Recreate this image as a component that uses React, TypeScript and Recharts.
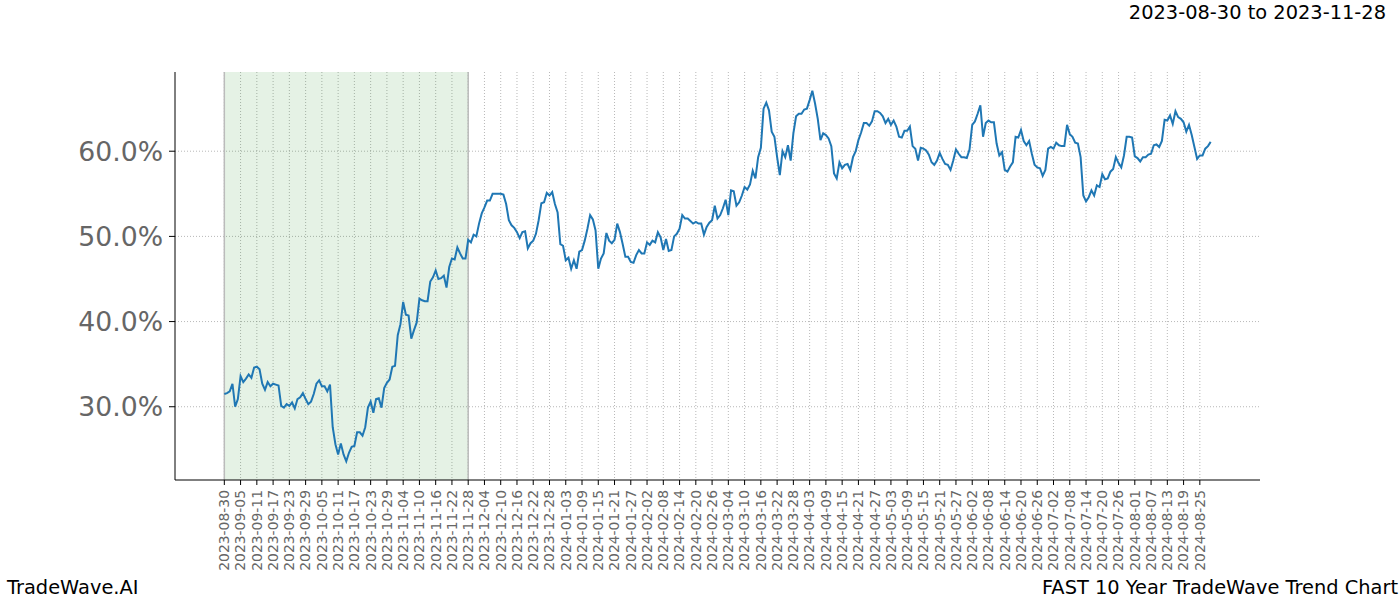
import { CartesianGrid, Line, LineChart, ReferenceArea, ReferenceLine, XAxis, YAxis } from "recharts";

// one value per day, index 0 = 2023-08-30 (feb 29 not in the series)
const trendValues = [
  31.5, 31.6, 31.8, 32.7, 30.0, 30.9, 33.6, 32.9, 33.3, 33.8,
  33.4, 34.6, 34.7, 34.4, 32.7, 32.0, 32.9, 32.4, 32.7, 32.6,
  32.5, 30.1, 29.9, 30.3, 30.1, 30.5, 29.8, 30.9, 31.1, 31.6,
  30.9, 30.3, 30.6, 31.5, 32.7, 33.1, 32.4, 32.4, 31.8, 32.6,
  27.6, 25.6, 24.4, 25.7, 24.4, 23.6, 24.6, 25.3, 25.4, 27.0,
  27.0, 26.6, 27.6, 29.9, 30.6, 29.3, 30.9, 31.0, 29.9, 32.2,
  32.8, 33.2, 34.7, 34.8, 38.4, 39.7, 42.3, 40.8, 40.7, 38.0,
  39.0, 39.9, 42.7, 42.5, 42.4, 42.4, 44.7, 45.2, 46.0, 45.0,
  45.1, 45.4, 44.0, 46.4, 47.4, 47.3, 48.7, 48.0, 47.4, 47.4,
  49.6, 49.3, 50.2, 50.0, 51.5, 52.7, 53.4, 54.2, 54.2, 55.0,
  55.0, 55.0, 55.0, 54.9, 53.8, 51.9, 51.3, 51.0, 50.5, 49.8,
  50.5, 50.6, 48.6, 49.2, 49.5, 50.3, 51.9, 53.9, 54.0, 55.1,
  54.8, 55.2, 53.8, 52.8, 49.1, 48.9, 47.2, 47.5, 46.2, 47.2,
  46.2, 48.2, 48.4, 49.5, 50.9, 52.5, 52.0, 50.7, 46.2, 47.4,
  48.0, 50.4, 49.5, 49.2, 49.6, 51.5, 50.5, 49.1, 47.6, 47.6,
  47.0, 46.9, 47.8, 48.4, 48.0, 48.0, 49.3, 49.0, 49.5, 49.3,
  50.5, 49.9, 48.4, 49.7, 48.3, 48.4, 50.0, 50.3, 50.9, 52.5,
  52.1, 52.1, 51.8, 51.5, 51.7, 51.5, 51.5, 50.2, 51.1, 51.6,
  51.9, 53.6, 52.1, 52.5, 53.3, 54.3, 52.5, 55.4, 55.3, 53.6,
  54.0, 54.8, 55.8, 55.5, 56.1, 57.7, 56.8, 59.3, 60.4, 65.0,
  65.7, 64.8, 62.3, 61.7, 59.3, 57.2, 60.0, 59.3, 60.7, 58.9,
  62.1, 64.1, 64.4, 64.4, 64.9, 65.0, 66.0, 67.1, 65.6, 63.8,
  61.3, 62.1, 61.9, 61.5, 60.6, 57.4, 56.8, 58.7, 58.0, 58.4,
  58.5, 57.8, 59.3, 60.0, 61.3, 62.2, 63.3, 63.3, 63.0, 63.5,
  64.7, 64.7, 64.5, 64.1, 63.3, 63.8, 63.1, 63.6, 62.9, 61.7,
  61.6, 62.4, 62.4, 62.9, 60.6, 60.3, 58.9, 60.4, 60.3, 60.1,
  59.6, 58.7, 58.4, 58.9, 59.8, 59.1, 58.5, 58.4, 57.8, 58.9,
  60.2, 59.7, 59.3, 59.3, 59.2, 60.2, 63.1, 63.5, 64.4, 65.4,
  61.7, 63.3, 63.6, 63.4, 63.4, 60.9, 59.5, 59.9, 57.8, 57.6,
  58.2, 58.7, 61.7, 61.6, 62.5, 61.2, 60.7, 61.2, 59.7, 58.4,
  58.1, 58.0, 57.1, 57.8, 60.3, 60.5, 60.3, 61.0, 60.7, 60.6,
  60.6, 63.1, 62.0, 61.7, 61.0, 60.9, 59.3, 54.8, 54.1, 54.6,
  55.4, 54.8, 56.0, 55.8, 57.3, 56.7, 56.8, 57.6, 57.9, 59.3,
  58.6, 58.1, 59.5, 61.7, 61.7, 61.6, 59.4, 59.2, 58.8, 59.3,
  59.3, 59.6, 59.7, 60.7, 60.8, 60.5, 61.2, 63.7, 63.6, 64.2,
  63.2, 64.7, 64.0, 63.8, 63.4, 62.3, 63.1, 61.9, 60.5, 59.1,
  59.5, 59.5, 60.3, 60.6, 61.1,
];

// every 6th point
const tickLabels = [
  "2023-08-30", "2023-09-05", "2023-09-11", "2023-09-17", "2023-09-23", "2023-09-29",
  "2023-10-05", "2023-10-11", "2023-10-17", "2023-10-23", "2023-10-29", "2023-11-04",
  "2023-11-10", "2023-11-16", "2023-11-22", "2023-11-28", "2023-12-04", "2023-12-10",
  "2023-12-16", "2023-12-22", "2023-12-28", "2024-01-03", "2024-01-09", "2024-01-15",
  "2024-01-21", "2024-01-27", "2024-02-02", "2024-02-08", "2024-02-14", "2024-02-20",
  "2024-02-26", "2024-03-04", "2024-03-10", "2024-03-16", "2024-03-22", "2024-03-28",
  "2024-04-03", "2024-04-09", "2024-04-15", "2024-04-21", "2024-04-27", "2024-05-03",
  "2024-05-09", "2024-05-15", "2024-05-21", "2024-05-27", "2024-06-02", "2024-06-08",
  "2024-06-14", "2024-06-20", "2024-06-26", "2024-07-02", "2024-07-08", "2024-07-14",
  "2024-07-20", "2024-07-26", "2024-08-01", "2024-08-07", "2024-08-13", "2024-08-19",
  "2024-08-25",
];
const TICK_EVERY = 6;

const yTicks = [30, 40, 50, 60];
const shadeFrom = "2023-08-30";
const shadeTo = "2023-11-28";

const data = trendValues.map((value, idx) => ({ idx, value }));
const xTicks = tickLabels.map((_, i) => i * TICK_EVERY);
const shadeX1 = tickLabels.indexOf(shadeFrom) * TICK_EVERY;
const shadeX2 = tickLabels.indexOf(shadeTo) * TICK_EVERY;

const lastIdx = trendValues.length - 1;
const pad = lastIdx * 0.05;

const FONT = "'DejaVu Sans', sans-serif";

function DateTick({ x, y, payload }: any) {
  const label = tickLabels[Math.round(payload.value / TICK_EVERY)] ?? "";
  return (
    <text
      x={x}
      y={y}
      transform={`rotate(-90, ${x}, ${y})`}
      textAnchor="end"
      dy="0.35em"
      fontSize={13.9}
      fill="#666"
      fontFamily={FONT}
    >
      {label}
    </text>
  );
}

export default function App() {
  return (
    <div style={{ position: "absolute", left: 0, top: 0, width: 1400, height: 600, background: "#fff" }}>
      <LineChart width={1400} height={600} data={data} margin={{ top: 72, right: 140, bottom: 10, left: 80 }}>
        <CartesianGrid stroke="#999" strokeDasharray="1 2" strokeWidth={0.7} syncWithTicks />
        <ReferenceArea x1={shadeX1} x2={shadeX2} fill="green" fillOpacity={0.1} stroke="none" />
        <ReferenceLine x={shadeX1} stroke="#bbb" strokeWidth={1.5} />
        <ReferenceLine x={shadeX2} stroke="#bbb" strokeWidth={1.5} />
        <XAxis
          dataKey="idx"
          type="number"
          domain={[-pad, lastIdx + pad]}
          ticks={xTicks}
          interval={0}
          height={110}
          tick={<DateTick />}
          tickSize={5}
          tickMargin={5}
          axisLine={{ stroke: "#000", strokeWidth: 1 }}
          tickLine={{ stroke: "#000" }}
        />
        <YAxis
          type="number"
          domain={[21.4, 69.3]}
          ticks={yTicks}
          width={95}
          tickSize={6}
          tickMargin={6}
          tickFormatter={(v: number) => `${v.toFixed(1)}%`}
          tick={{ fontSize: 26.7, fill: "#666", fontFamily: FONT }}
          axisLine={{ stroke: "#000", strokeWidth: 1 }}
          tickLine={{ stroke: "#000" }}
        />
        <Line
          type="linear"
          dataKey="value"
          stroke="#1f77b4"
          strokeWidth={2}
          dot={false}
          isAnimationActive={false}
        />
      </LineChart>
      <svg width={1400} height={600} style={{ position: "absolute", left: 0, top: 0, pointerEvents: "none" }}>
        <text x={1386} y={19} textAnchor="end" fontSize={19.4} fontFamily={FONT} fill="#000">
          2023-08-30 to 2023-11-28
        </text>
        <text x={7} y={594} fontSize={19.4} fontFamily={FONT} fill="#000">
          TradeWave.AI
        </text>
        <text x={1398} y={594} textAnchor="end" fontSize={19.4} fontFamily={FONT} fill="#000">
          FAST 10 Year TradeWave Trend Chart
        </text>
      </svg>
    </div>
  );
}
